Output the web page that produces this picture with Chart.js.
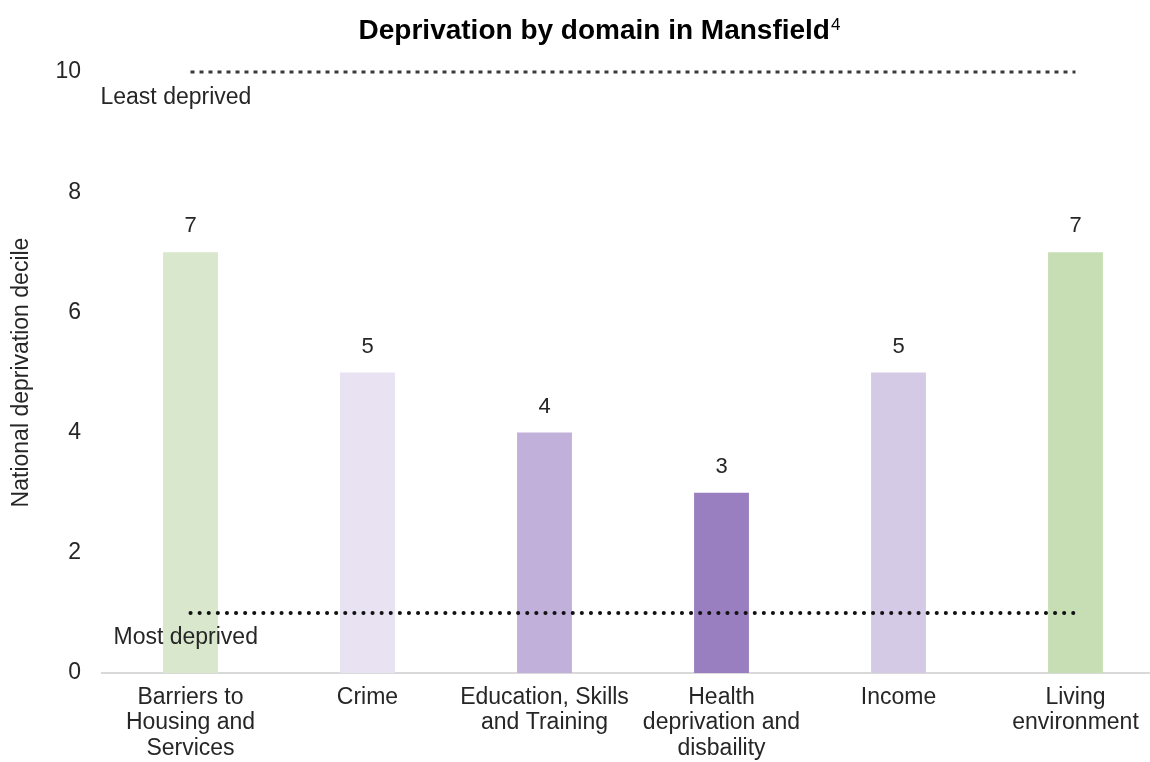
<!DOCTYPE html>
<html>
<head>
<meta charset="utf-8">
<title>Deprivation by domain in Mansfield</title>
<script src="https://cdn.jsdelivr.net/npm/chart.js@4.4.1/dist/chart.umd.min.js"></script>
<style>
  html, body { margin: 0; padding: 0; background: #fff; overflow: hidden; }
  #wrap { width: 1150px; height: 762px; overflow: hidden; }
  canvas { display: block; }
</style>
</head>
<body>
<div id="wrap"><canvas id="chart" width="1180" height="762"></canvas></div>
<script>
const domains = [
  ['Barriers to', 'Housing and', 'Services'],
  'Crime',
  ['Education, Skills', 'and Training'],
  ['Health', 'deprivation and', 'disbaility'],
  'Income',
  ['Living', 'environment']
];
const deciles = [7, 5, 4, 3, 5, 7];
const leastDeprived = [10, 10, 10, 10, 10, 10];
const mostDeprived = [1, 1, 1, 1, 1, 1];
const barColours = ['#d9e7cd', '#e8e2f2', '#c0b0da', '#9a7fc0', '#d5cae6', '#c7deb4'];

const TITLE = 'Deprivation by domain in Mansfield';
const TITLE_NOTE = '4';

const FONT = "'Liberation Sans', Arial, sans-serif";
const TEXT = '#262626';

// heading with its footnote marker, drawn in the space kept by layout.padding.top
const heading = {
  id: 'heading',
  afterDraw(chart) {
    const { ctx } = chart;
    ctx.save();
    ctx.fillStyle = '#000';
    ctx.textBaseline = 'alphabetic';
    ctx.textAlign = 'left';
    const bold = 'bold 28px ' + FONT;
    const small = '17px ' + FONT;
    ctx.font = bold;
    const w1 = ctx.measureText(TITLE).width;
    ctx.font = small;
    const w2 = ctx.measureText(TITLE_NOTE).width;
    const cx = (chart.chartArea.left + chart.chartArea.right) / 2 - 34;
    const start = cx - (w1 + w2) / 2;
    ctx.font = bold;
    ctx.fillText(TITLE, start, 39);
    ctx.font = small;
    ctx.fillText(TITLE_NOTE, start + w1 + 1, 30);
    ctx.restore();
  }
};

// value above each bar, plus the two reference line captions
const annotate = {
  id: 'annotate',
  afterDatasetsDraw(chart) {
    const { ctx, scales: { x, y } } = chart;
    ctx.save();
    ctx.fillStyle = TEXT;
    ctx.font = '22px ' + FONT;
    ctx.textAlign = 'center';
    ctx.textBaseline = 'middle';
    chart.getDatasetMeta(0).data.forEach((bar, i) => {
      ctx.fillText(String(deciles[i]), bar.x, bar.y - 26);
    });
    ctx.font = '23px ' + FONT;
    ctx.textAlign = 'left';
    const x0 = x.getPixelForValue(0);
    ctx.fillText('Least deprived', x0 - 90, y.getPixelForValue(leastDeprived[0]) + 26);
    ctx.fillText('Most deprived', x0 - 77, y.getPixelForValue(mostDeprived[0]) + 25);
    ctx.restore();
  }
};

new Chart(document.getElementById('chart'), {
  data: {
    labels: domains,
    datasets: [
      {
        type: 'bar',
        data: deciles,
        backgroundColor: barColours,
        categoryPercentage: 1,
        barPercentage: 0.31,
        order: 2
      },
      {
        type: 'line',
        data: leastDeprived,
        borderColor: '#3a3a3a',
        borderWidth: 3,
        borderDash: [4, 5],
        pointRadius: 0,
        clip: false,
        order: 1
      },
      {
        type: 'line',
        data: mostDeprived,
        borderColor: '#111',
        borderWidth: 4,
        borderDash: [0.1, 9],
        borderCapStyle: 'round',
        pointRadius: 0,
        clip: false,
        order: 1
      }
    ]
  },
  options: {
    responsive: false,
    animation: false,
    layout: { padding: { left: 0, right: 16, top: 72, bottom: 0 } },
    plugins: {
      legend: { display: false },
      tooltip: { enabled: false },
      title: { display: false }
    },
    scales: {
      x: {
        grid: { display: false, drawTicks: false },
        border: { display: true, color: '#d9d9d9', width: 2 },
        ticks: {
          color: TEXT,
          font: { family: FONT, size: 23, lineHeight: 1.1 },
          padding: 12,
          maxRotation: 0,
          autoSkip: false
        },
        afterFit(scale) { scale.height = 89; }
      },
      y: {
        min: 0,
        max: 10,
        grid: { display: false, drawTicks: false },
        border: { display: false },
        ticks: {
          stepSize: 2,
          color: TEXT,
          font: { family: FONT, size: 23 },
          padding: 21
        },
        title: {
          display: true,
          text: 'National deprivation decile',
          color: TEXT,
          font: { family: FONT, size: 23 },
          padding: { top: 8, bottom: 0 }
        },
        afterFit(scale) { scale.width = 102; }
      }
    }
  },
  plugins: [annotate, heading]
});
</script>
</body>
</html>
